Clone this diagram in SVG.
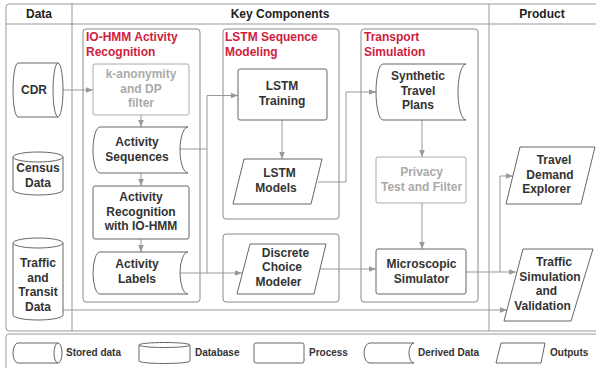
<svg xmlns="http://www.w3.org/2000/svg" width="596" height="368" viewBox="0 0 596 368">
  <style>
    text { font-family: "Liberation Sans", Arial, sans-serif; font-weight: bold; }
    .hdr { font-size: 12px; fill: #222; text-anchor: middle; }
    .grp { font-size: 12px; fill: #cf1d3d; }
    .lbl { font-size: 12px; fill: #333; text-anchor: middle; }
    .dim { fill: #aaa; }
    .leg { font-size: 10px; fill: #333; }
    .frame { fill: none; stroke: #999; stroke-width: 1; }
    .group { fill: none; stroke: #8a8a8a; stroke-width: 1; }
    .shape { fill: #fff; stroke: #666; stroke-width: 1; }
    .shape-dim { fill: #fff; stroke: #aaa; stroke-width: 1; }
    .conn { fill: none; stroke: #999; stroke-width: 1; }
  </style>
  <defs>
    <marker id="arrow" viewBox="0 0 8 8" refX="8" refY="4" markerWidth="7" markerHeight="7" markerUnits="userSpaceOnUse" orient="auto">
      <path d="M0,0.8 L8,4 L0,7.2 Z" fill="#999"/>
    </marker>
  </defs>

  <rect width="596" height="368" fill="#fff"/>

  <!-- table frame -->
  <g id="table">
    <rect class="frame" x="6" y="4" width="596" height="327" rx="3"/>
    <line class="frame" x1="6" y1="24" x2="596" y2="24"/>
    <line class="frame" x1="72" y1="4" x2="72" y2="331"/>
    <line class="frame" x1="489" y1="4" x2="489" y2="331"/>
    <text class="hdr" x="39" y="18">Data</text>
    <text class="hdr" x="280" y="18">Key Components</text>
    <text class="hdr" x="542" y="18">Product</text>
  </g>

  <!-- component groups -->
  <g id="grp-iohmm">
    <rect class="group" x="83" y="29" width="117" height="273" rx="3"/>
    <text class="grp" x="86" y="41">IO-HMM Activity</text>
    <text class="grp" x="86" y="55.5">Recognition</text>
  </g>
  <g id="grp-lstm">
    <rect class="group" x="223" y="29" width="116" height="190" rx="3"/>
    <text class="grp" x="225" y="41">LSTM Sequence</text>
    <text class="grp" x="225" y="55.5">Modeling</text>
  </g>
  <g id="grp-dcm">
    <rect class="group" x="223" y="234" width="116" height="68" rx="3"/>
  </g>
  <g id="grp-transport">
    <rect class="group" x="361" y="29" width="117" height="273" rx="3"/>
    <text class="grp" x="364" y="41">Transport</text>
    <text class="grp" x="364" y="55.5">Simulation</text>
  </g>

  <!-- connectors -->
  <g id="connectors">
    <path class="conn" d="M63,90 H93" marker-end="url(#arrow)"/>
    <path class="conn" d="M141,115 V127" marker-end="url(#arrow)"/>
    <path class="conn" d="M141,173 V186" marker-end="url(#arrow)"/>
    <path class="conn" d="M141,239 V252" marker-end="url(#arrow)"/>
    <path class="conn" d="M180,149 H207 V95.5 H238" marker-end="url(#arrow)"/>
    <path class="conn" d="M207,149 V273"/>
    <path class="conn" d="M180,273 H242" marker-end="url(#arrow)"/>
    <path class="conn" d="M282,120 V159" marker-end="url(#arrow)"/>
    <path class="conn" d="M318,182 H346 V92 H376" marker-end="url(#arrow)"/>
    <path class="conn" d="M422,120 V157" marker-end="url(#arrow)"/>
    <path class="conn" d="M422,203 V249" marker-end="url(#arrow)"/>
    <path class="conn" d="M320,269 H376" marker-end="url(#arrow)"/>
    <path class="conn" d="M466,272 H516" marker-end="url(#arrow)"/>
    <path class="conn" d="M500,272 V176 H513" marker-end="url(#arrow)"/>
    <path class="conn" d="M63,310 H507" marker-end="url(#arrow)"/>
  </g>

  <!-- data sources -->
  <g id="cdr">
    <path class="shape" d="M18,63 H58 A5,27 0 0 1 58,117 H18 A5,27 0 0 1 18,63 Z"/>
    <path class="shape" d="M58,63 A5,27 0 0 0 58,117" fill="none"/>
    <text class="lbl" x="34" y="94">CDR</text>
  </g>
  <g id="census">
    <path class="shape" d="M13,157 V190 A25,5 0 0 0 63,190 V157 A25,5 0 0 0 13,157 Z"/>
    <path class="shape" d="M13,157 A25,5 0 0 0 63,157" fill="none"/>
    <text class="lbl" x="38" y="172">Census</text>
    <text class="lbl" x="38" y="186.5">Data</text>
  </g>
  <g id="traffic-data">
    <path class="shape" d="M13,243 V315 A25,5 0 0 0 63,315 V243 A25,5 0 0 0 13,243 Z"/>
    <path class="shape" d="M13,243 A25,5 0 0 0 63,243" fill="none"/>
    <text class="lbl" x="38" y="267">Traffic</text>
    <text class="lbl" x="38" y="281.5">and</text>
    <text class="lbl" x="38" y="296">Transit</text>
    <text class="lbl" x="38" y="310.5">Data</text>
  </g>

  <!-- IO-HMM activity recognition -->
  <g id="kanon">
    <rect class="shape-dim" x="93" y="64" width="96" height="51" rx="2"/>
    <text class="lbl dim" x="141" y="78">k-anonymity</text>
    <text class="lbl dim" x="141" y="92.5">and DP</text>
    <text class="lbl dim" x="141" y="107">filter</text>
  </g>
  <g id="act-seq">
    <path class="shape" d="M100,127 H188 A8,23 0 0 0 188,173 H100 A7,23 0 0 1 100,127 Z"/>
    <text class="lbl" x="137" y="146">Activity</text>
    <text class="lbl" x="137" y="160.5">Sequences</text>
  </g>
  <g id="act-rec">
    <rect class="shape" x="93" y="186" width="96" height="53" rx="2"/>
    <text class="lbl" x="141" y="201">Activity</text>
    <text class="lbl" x="141" y="215.5">Recognition</text>
    <text class="lbl" x="141" y="230">with IO-HMM</text>
  </g>
  <g id="act-labels">
    <path class="shape" d="M100,252 H188 A8,21 0 0 0 188,294 H100 A7,21 0 0 1 100,252 Z"/>
    <text class="lbl" x="137" y="268">Activity</text>
    <text class="lbl" x="137" y="282.5">Labels</text>
  </g>

  <!-- LSTM sequence modeling -->
  <g id="lstm-train">
    <rect class="shape" x="238" y="69" width="89" height="51" rx="2"/>
    <text class="lbl" x="282" y="90">LSTM</text>
    <text class="lbl" x="282" y="104.5">Training</text>
  </g>
  <g id="lstm-models">
    <path class="shape" d="M244,159 H322 L311,204 H233 Z"/>
    <text class="lbl" x="279.5" y="177">LSTM</text>
    <text class="lbl" x="276" y="191.5">Models</text>
  </g>
  <g id="dcm">
    <path class="shape" d="M250,244 H326 L314,294 H237 Z"/>
    <text class="lbl" x="285.5" y="256.5">Discrete</text>
    <text class="lbl" x="282" y="271">Choice</text>
    <text class="lbl" x="278.5" y="285.5">Modeler</text>
  </g>

  <!-- transport simulation -->
  <g id="synth-plans">
    <path class="shape" d="M383,64 H466 A8,28 0 0 0 466,120 H383 A7,28 0 0 1 383,64 Z"/>
    <text class="lbl" x="418" y="80">Synthetic</text>
    <text class="lbl" x="418" y="94.5">Travel</text>
    <text class="lbl" x="418" y="109">Plans</text>
  </g>
  <g id="privacy">
    <rect class="shape-dim" x="376" y="157" width="90" height="46" rx="2"/>
    <text class="lbl dim" x="421.5" y="176">Privacy</text>
    <text class="lbl dim" x="421.5" y="190.5">Test and Filter</text>
  </g>
  <g id="micro-sim">
    <rect class="shape" x="376" y="249" width="90" height="45" rx="2"/>
    <text class="lbl" x="421.5" y="268">Microscopic</text>
    <text class="lbl" x="421.5" y="282.5">Simulator</text>
  </g>

  <!-- products -->
  <g id="tde">
    <path class="shape" d="M520,147 H595 L581,204 H506 Z"/>
    <text class="lbl" x="554" y="164">Travel</text>
    <text class="lbl" x="550" y="178.5">Demand</text>
    <text class="lbl" x="546.5" y="193">Explorer</text>
  </g>
  <g id="tsv">
    <path class="shape" d="M523,249 H593 L571,321 H504 Z"/>
    <text class="lbl" x="554" y="266">Traffic</text>
    <text class="lbl" x="550" y="280.5">Simulation</text>
    <text class="lbl" x="546.5" y="295">and</text>
    <text class="lbl" x="542.5" y="309.5">Validation</text>
  </g>

  <!-- legend -->
  <g id="legend">
    <rect class="frame" x="6" y="334" width="596" height="44" rx="3"/>
    <path class="shape" d="M18,343 H58 A4,10 0 0 1 58,363 H18 A5,10 0 0 1 18,343 Z"/>
    <path class="shape" d="M58,343 A4,10 0 0 0 58,363" fill="none"/>
    <text class="leg" x="66" y="355.5">Stored data</text>
    <path class="shape" d="M139,345 V361 A25.5,2.5 0 0 0 190,361 V345 A25.5,2.5 0 0 0 139,345 Z"/>
    <path class="shape" d="M139,345 A25.5,2.5 0 0 0 190,345" fill="none"/>
    <text class="leg" x="195" y="355.5">Database</text>
    <rect class="shape" x="254" y="343" width="50" height="20" rx="2"/>
    <text class="leg" x="309" y="355.5">Process</text>
    <path class="shape" d="M370,343 H414 A5,10 0 0 0 414,363 H370 A6,10 0 0 1 370,343 Z"/>
    <text class="leg" x="418" y="355.5">Derived Data</text>
    <path class="shape" d="M501,343 H545 L541,363 H496 Z"/>
    <text class="leg" x="550" y="355.5">Outputs</text>
  </g>
</svg>
